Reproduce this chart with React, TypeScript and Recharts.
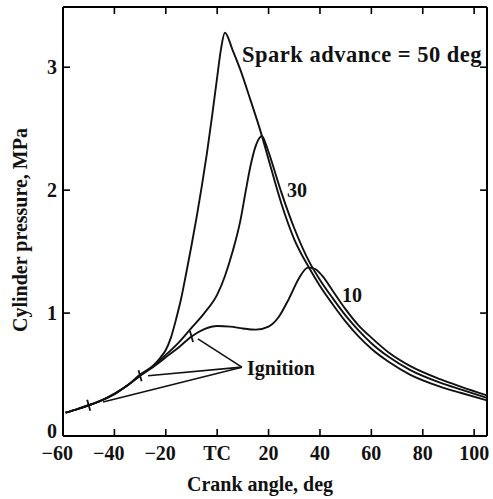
import React from 'react';
import { LineChart, Line, XAxis, YAxis, ReferenceLine } from 'recharts';

// crank angle (deg) and cylinder pressure (MPa) for each spark advance
const angle50 = [-59, -55, -50, -45, -40, -35, -30, -25, -22, -20, -18, -16, -14, -12, -10, -8, -6, -4, -2, 0, 1.5, 3, 6, 9, 13, 17, 20, 25, 30, 36, 40, 45, 50, 55, 60, 67, 75, 87, 95, 105];
const press50 = [0.19, 0.215, 0.25, 0.29, 0.345, 0.41, 0.5, 0.57, 0.64, 0.7, 0.8, 0.95, 1.12, 1.33, 1.55, 1.78, 2.03, 2.3, 2.6, 2.92, 3.15, 3.28, 3.14, 2.98, 2.73, 2.47, 2.25, 1.89, 1.6, 1.36, 1.22, 1.07, 0.93, 0.81, 0.71, 0.6, 0.5, 0.4, 0.35, 0.29];

const angle30 = [-59, -55, -50, -45, -40, -35, -30, -25, -20, -15, -10, -5, 0, 3, 6, 9, 11, 13, 15, 16.3, 17.4, 19, 20, 25, 30, 36, 40, 45, 50, 55, 60, 67, 75, 87, 95, 105];
const press30 = [0.19, 0.215, 0.25, 0.29, 0.34, 0.41, 0.49, 0.57, 0.66, 0.76, 0.88, 1.0, 1.15, 1.3, 1.5, 1.75, 1.98, 2.2, 2.36, 2.42, 2.44, 2.37, 2.31, 1.98, 1.69, 1.41, 1.27, 1.12, 0.98, 0.86, 0.755, 0.64, 0.538, 0.432, 0.377, 0.31];

const angle10 = [-59, -55, -50, -45, -40, -35, -30, -25, -20, -15, -10, -5, 0, 5, 10, 15, 20, 24, 28, 32, 35.3, 38, 41, 45, 50, 55, 60, 67, 75, 87, 95, 105];
const press10 = [0.19, 0.215, 0.25, 0.29, 0.34, 0.41, 0.49, 0.56, 0.64, 0.72, 0.81, 0.87, 0.895, 0.89, 0.875, 0.865, 0.89, 0.97, 1.12, 1.29, 1.37, 1.36, 1.3, 1.18, 1.03, 0.9, 0.8, 0.675, 0.57, 0.46, 0.4, 0.33];

// ignition points: angle, pressure
const ignAngle = [-50, -30, -10];
const ignPress = [0.25, 0.49, 0.81];
// where the leader lines stop short of the curves
const leaderAngle = [-44.4, -26.9, -7.5];
const leaderPress = [0.276, 0.49, 0.79];
const labelAt = { a: 9.6, p: 0.56 };

const xTicks = [-60, -40, -20, 0, 20, 40, 60, 80, 100];
const yTicks = [0, 1, 2, 3];
const X_MAX = 105;
const Y_MAX = 3.49;

const toRows = (a: number[], p: number[]) => a.map((v, i) => ({ a: v, p: p[i] }));
const series = [toRows(angle50, press50), toRows(angle30, press30), toRows(angle10, press10)];

const FONT = '"Liberation Serif", "DejaVu Serif", serif';

function BottomTick(props: any) {
  const { x, y, payload } = props;
  const v = payload.value;
  const label = v === 0 ? 'TC' : v < 0 ? '−' + Math.abs(v) : String(v);
  return (
    <g>
      {v > -60 && <line x1={x} y1={y} x2={x} y2={y - 7} stroke="#000" strokeWidth={1.6} />}
      <text x={v < 0 ? x + 10 : x} y={y + 24} textAnchor={v < 0 ? 'end' : 'middle'}
        fontSize={20} fontWeight="bold" fontFamily={FONT} fill="#111">
        {label}
      </text>
    </g>
  );
}

function LeftTick(props: any) {
  const { x, y, payload } = props;
  const v = payload.value;
  return (
    <g>
      {v > 0 && <line x1={x} y1={y} x2={x + 7} y2={y} stroke="#000" strokeWidth={1.6} />}
      <text x={x - 6} y={v === 0 ? y + 2 : y + 7} textAnchor="end" fontSize={20} fontWeight="bold" fontFamily={FONT} fill="#111">
        {v}
      </text>
    </g>
  );
}

const axisLine = { stroke: '#000', strokeWidth: 2 };

export default function App() {
  return (
    <div style={{ position: 'absolute', left: 0, top: 0, width: 493, height: 499, background: '#fff' }}>
      <LineChart width={493} height={499} margin={{ top: 7, right: 6, bottom: 0, left: 0 }}>
        <XAxis xAxisId="b" type="number" dataKey="a" domain={[-60, X_MAX]} ticks={xTicks} interval={0}
          height={63} tickSize={0} tickMargin={0} tickLine={false} tick={(p: any) => <BottomTick {...p} />}
          axisLine={axisLine} allowDataOverflow />
        <YAxis yAxisId="l" type="number" domain={[0, Y_MAX]} ticks={yTicks} interval={0}
          width={63} tickSize={0} tickMargin={0} tickLine={false} tick={(p: any) => <LeftTick {...p} />}
          axisLine={axisLine} allowDataOverflow />

        {/* frame: top and right sides with inward ticks */}
        <ReferenceLine xAxisId="b" yAxisId="l" y={Y_MAX} stroke="#000" strokeWidth={2} ifOverflow="visible" />
        <ReferenceLine xAxisId="b" yAxisId="l" x={X_MAX} stroke="#000" strokeWidth={2} ifOverflow="visible" />
        {xTicks.slice(1).map((t) => (
          <ReferenceLine key={'tt' + t} xAxisId="b" yAxisId="l" ifOverflow="visible"
            segment={[{ x: t, y: Y_MAX }, { x: t, y: Y_MAX - 0.057 }]} stroke="#000" strokeWidth={1.6} />
        ))}
        {yTicks.slice(1).map((t) => (
          <ReferenceLine key={'rt' + t} xAxisId="b" yAxisId="l" ifOverflow="visible"
            segment={[{ x: X_MAX, y: t }, { x: X_MAX - 2.7, y: t }]} stroke="#000" strokeWidth={1.6} />
        ))}

        {series.map((d, i) => (
          <Line key={i} xAxisId="b" yAxisId="l" data={d} dataKey="p" type="monotone"
            stroke="#111" strokeWidth={1.9} dot={false} isAnimationActive={false} />
        ))}

        {ignAngle.map((a, i) => (
          <ReferenceLine key={'ig' + i} xAxisId="b" yAxisId="l" ifOverflow="visible"
            segment={[{ x: a + 0.6, y: ignPress[i] - 0.045 }, { x: a - 0.6, y: ignPress[i] + 0.045 }]}
            stroke="#111" strokeWidth={1.8} />
        ))}
        {leaderAngle.map((a, i) => (
          <ReferenceLine key={'ld' + i} xAxisId="b" yAxisId="l" ifOverflow="visible"
            segment={[{ x: labelAt.a, y: labelAt.p }, { x: a, y: leaderPress[i] }]}
            stroke="#111" strokeWidth={1.6} />
        ))}
      </LineChart>

      <svg width={493} height={499} style={{ position: 'absolute', left: 0, top: 0, pointerEvents: 'none' }}
        fontFamily={FONT} fontWeight="bold" fill="#111">
        <text x={242} y={62} fontSize={22.5} letterSpacing={0.5}>Spark advance = 50 deg</text>
        <text x={287} y={197} fontSize={20}>30</text>
        <text x={342} y={302} fontSize={20}>10</text>
        <text x={247} y={375} fontSize={20}>Ignition</text>
        <text x={260} y={491} fontSize={20} textAnchor="middle">Crank angle, deg</text>
        <text x={27} y={230} fontSize={20} textAnchor="middle" transform="rotate(-90 27 230)">Cylinder pressure, MPa</text>
      </svg>
    </div>
  );
}
